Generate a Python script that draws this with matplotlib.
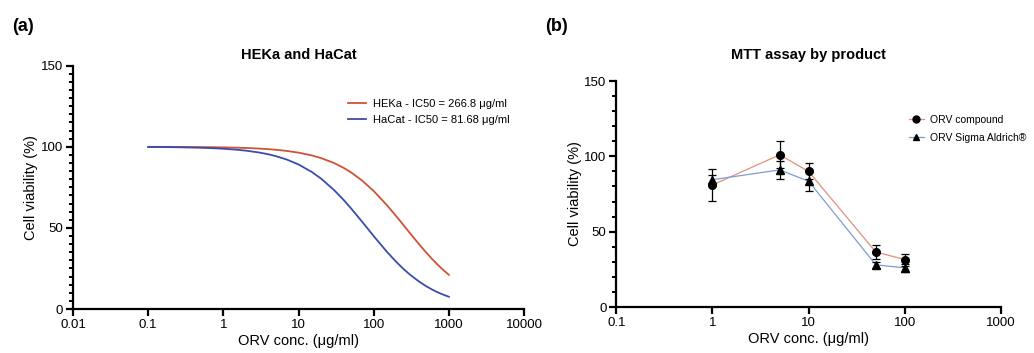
import numpy as np
import matplotlib
matplotlib.use('Agg')
import matplotlib.pyplot as plt
from matplotlib.ticker import FixedLocator, MultipleLocator, NullLocator

plt.rcParams['font.family'] = ['Liberation Sans', 'DejaVu Sans']

# ---- panel (a): fitted dose-response curves
conc_a = [0.1, 0.2, 0.3, 0.5, 0.7, 1, 1.5, 2, 3, 4, 5, 7, 10, 15, 20, 30, 40,
          50, 70, 100, 150, 200, 250, 300, 400, 500, 600, 700, 800, 1000]
heka = [99.96, 99.93, 99.89, 99.81, 99.74, 99.63, 99.44, 99.26, 98.89, 98.52,
        98.16, 97.44, 96.39, 94.68, 93.03, 89.89, 86.96, 84.22, 79.22, 72.74,
        64.01, 57.16, 51.63, 47.07, 40.01, 34.79, 30.78, 27.60, 25.01, 21.06]
hacat = [99.88, 99.76, 99.63, 99.39, 99.15, 98.79, 98.20, 97.61, 96.46, 95.33,
         94.23, 92.11, 89.09, 84.49, 80.33, 73.14, 67.13, 62.03, 53.85, 44.96,
         35.26, 29.00, 24.63, 21.40, 16.96, 14.04, 11.98, 10.45, 9.26, 7.55]
label_heka = 'HEKa - IC50 = 266.8 \u03bcg/ml'
label_hacat = 'HaCat - IC50 = 81.68 \u03bcg/ml'

# ---- panel (b): MTT assay means and error
conc_b = [1, 5, 10, 50, 100]
orv_comp = [81, 101, 90, 36.5, 31.5]
orv_comp_err = [10.5, 9, 5.3, 4.5, 4]
orv_sigma = [84.5, 91, 83.5, 28, 26]
orv_sigma_err = [3, 6, 6.5, 2, 2.5]

fig = plt.figure(figsize=(10.34, 3.53), dpi=100)
ax1 = fig.add_axes([0.0706, 0.1246, 0.4362, 0.6894])
ax2 = fig.add_axes([0.596, 0.1303, 0.372, 0.6402])


def style_axis(ax):
    for s in ['top', 'right']:
        ax.spines[s].set_visible(False)
    for s in ['left', 'bottom']:
        ax.spines[s].set_linewidth(1.6)
    ax.tick_params(which='major', direction='out', length=5, width=1.6,
                   labelsize=9.5, pad=2)
    ax.tick_params(which='minor', direction='out', length=3, width=1.4)
    ax.set_xscale('log')
    ax.set_ylim(0, 150)
    ax.yaxis.set_major_locator(FixedLocator([0, 50, 100, 150]))
    ax.xaxis.set_minor_locator(NullLocator())
    ax.set_xlabel('ORV conc. (\u03bcg/ml)', fontsize=10.5, labelpad=2)
    ax.set_ylabel('Cell viability (%)', fontsize=10.5, labelpad=2)


# (a)
ax1.plot(conc_a, heka, color='#cf5233', lw=1.3, label=label_heka)
ax1.plot(conc_a, hacat, color='#3a4cae', lw=1.3, label=label_hacat)
style_axis(ax1)
ax1.set_xlim(0.01, 10000)
ax1.xaxis.set_major_locator(FixedLocator([0.01, 0.1, 1, 10, 100, 1000, 10000]))
ax1.set_xticklabels(['0.01', '0.1', '1', '10', '100', '1000', '10000'])
ax1.yaxis.set_minor_locator(MultipleLocator(5))
ax1.set_title('HEKa and HaCat', fontsize=10.5, fontweight='bold', pad=5)
ax1.legend(loc='upper left', bbox_to_anchor=(0.6, 0.88), frameon=False,
           fontsize=8, handlelength=1.6, handletextpad=0.6,
           labelspacing=0.5, borderaxespad=0)

# (b)
ax2.plot(conc_b, orv_comp, color='#e0917d', lw=0.9, zorder=2)
ax2.plot(conc_b, orv_sigma, color='#7f9ccf', lw=0.9, zorder=2)
ax2.errorbar(conc_b, orv_comp, yerr=orv_comp_err, fmt='o', color='black',
             ms=5.5, elinewidth=0.9, capsize=3, capthick=0.9, zorder=3)
ax2.errorbar(conc_b, orv_sigma, yerr=orv_sigma_err, fmt='^', color='black',
             ms=5.5, elinewidth=0.9, capsize=3, capthick=0.9, zorder=3)
style_axis(ax2)
ax2.set_xlim(0.1, 1000)
ax2.xaxis.set_major_locator(FixedLocator([0.1, 1, 10, 100, 1000]))
ax2.set_xticklabels(['0.1', '1', '10', '100', '1000'])
ax2.yaxis.set_minor_locator(MultipleLocator(10))
ax2.set_title('MTT assay by product', fontsize=10.5, fontweight='bold', pad=16)

h1, = ax2.plot([], [], color='#e0917d', lw=0.9, marker='o', ms=5,
               mfc='black', mec='black')
h2, = ax2.plot([], [], color='#7f9ccf', lw=0.9, marker='^', ms=5,
               mfc='black', mec='black')
ax2.legend([h1, h2], ['ORV compound', 'ORV Sigma Aldrich\u00ae'],
           loc='upper left', bbox_to_anchor=(0.75, 0.87), frameon=False,
           fontsize=7.5, handlelength=1.4, handletextpad=0.6,
           labelspacing=0.8, borderaxespad=0)

fig.text(0.012, 0.925, '(a)', fontsize=13, fontweight='bold', va='center')
fig.text(0.527, 0.925, '(b)', fontsize=13, fontweight='bold', va='center')

fig.savefig('out.png', dpi=100)
